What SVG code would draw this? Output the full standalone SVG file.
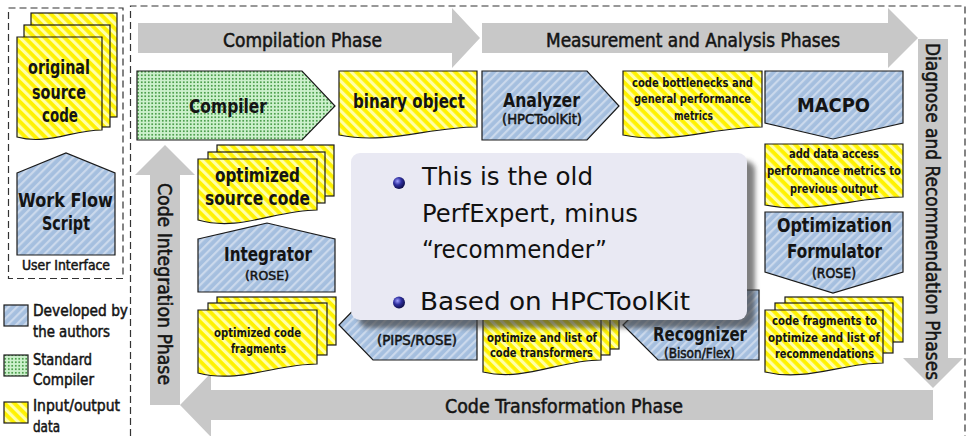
<svg xmlns="http://www.w3.org/2000/svg" width="968" height="436" viewBox="0 0 968 436">
<defs>
<pattern id="hb" width="6" height="6" patternUnits="userSpaceOnUse" patternTransform="rotate(45)">
<rect width="6" height="6" fill="#A5BFDF"/><rect width="2.2" height="6" fill="#CBD9EC"/>
</pattern>
<pattern id="hy" width="7" height="7" patternUnits="userSpaceOnUse" patternTransform="rotate(-45)">
<rect width="7" height="7" fill="#FFF200"/><rect width="3.2" height="7" fill="#FFFFA8"/>
</pattern>
<pattern id="dots" width="3.5" height="3.5" patternUnits="userSpaceOnUse">
<rect width="3.5" height="3.5" fill="#CDF1CD"/><circle cx="1.75" cy="1.75" r="0.8" fill="#137A13"/>
</pattern>
<radialGradient id="ball" cx="0.38" cy="0.35" r="0.7">
<stop offset="0" stop-color="#A0A0FF"/><stop offset="0.45" stop-color="#3030A0"/><stop offset="1" stop-color="#0A0A40"/>
</radialGradient>
<filter id="blur" x="-10%" y="-10%" width="120%" height="120%"><feGaussianBlur stdDeviation="2.5"/></filter>
<style>
.sh{stroke:#1a1a1a;stroke-width:1.2;stroke-linejoin:miter}
.blue{fill:url(#hb)}
.yel{fill:url(#hy)}
.grn{fill:url(#dots)}
.arr{fill:#C8C8C8}
.dash{fill:none;stroke:#333;stroke-width:1.2;stroke-dasharray:7 4}
.t{font-family:"DejaVu Sans Condensed","DejaVu Sans",sans-serif;fill:#141414}
.b{font-weight:bold}
.m{font-weight:normal;stroke:#141414;stroke-width:0.5}
.c{text-anchor:middle}
.s20{font-size:20px}
.s19{font-size:19px}
.s16{font-size:16px}
.s14{font-size:14px}
.s13{font-size:13px}
.co{font-family:"DejaVu Sans","Liberation Sans",sans-serif;font-size:24.5px;fill:#111}
</style>
</defs>

<rect width="968" height="436" fill="#fff"/>

<g id="frames">
<rect class="dash" x="8.5" y="8" width="114.5" height="270.5"/>
<path class="dash" d="M130.5,436 V6 H965 V436"/>
</g>

<g id="connectors">
<g id="arrow-compilation">
<path class="arr" d="M138,23 H452 V8 L480,38 L452,68 V53 H138 Z"/>
<text class="t m s19 c" x="302.5" y="47" textLength="159" lengthAdjust="spacingAndGlyphs">Compilation Phase</text>
</g>
<g id="arrow-measurement">
<path class="arr" d="M482,23 H888 V8 L918,38 L888,68 V53 H482 Z"/>
<text class="t m s19 c" x="693" y="47" textLength="294" lengthAdjust="spacingAndGlyphs">Measurement and Analysis Phases</text>
</g>
<g id="arrow-diagnose">
<path class="arr" d="M918,39 H948 V358 H963 L933,388 L903,358 H918 Z"/>
<text class="t m s19 c" transform="translate(926,211.5) rotate(90)" textLength="337" lengthAdjust="spacingAndGlyphs">Diagnose and Recommendation Phases</text>
</g>
<g id="arrow-transformation">
<path class="arr" d="M933,390 H211 V373 L180,405 L211,437 V420 H933 Z"/>
<text class="t m s19 c" x="564" y="413" textLength="238" lengthAdjust="spacingAndGlyphs">Code Transformation Phase</text>
</g>
<g id="arrow-integration">
<path class="arr" d="M150,405 V175 H135 L165,145 L195,175 H180 V405 Z"/>
<text class="t m s19 c" transform="translate(158,284) rotate(90)" textLength="202" lengthAdjust="spacingAndGlyphs">Code Integration Phase</text>
</g>
</g>

<g id="original-source-code">
<rect class="sh yel" x="31" y="13" width="86" height="104"/>
<rect class="sh yel" x="24" y="25" width="86" height="102"/>
<path class="sh yel" d="M17,37 H102 V130 C72.3,130 46.8,145.4 17,137 Z"/>
<text class="t b s20 c" x="59" y="74" textLength="62" lengthAdjust="spacingAndGlyphs">original</text>
<text class="t b s20 c" x="59" y="98.5" textLength="54" lengthAdjust="spacingAndGlyphs">source</text>
<text class="t b s20 c" x="60" y="122" textLength="36" lengthAdjust="spacingAndGlyphs">code</text>
</g>
<g id="work-flow-script">
<path class="sh blue" d="M17,173 L66,153 L115,173 V255 H17 Z"/>
<text class="t b s20 c" x="65.5" y="207" textLength="95" lengthAdjust="spacingAndGlyphs">Work Flow</text>
<text class="t b s20 c" x="66" y="230" textLength="48" lengthAdjust="spacingAndGlyphs">Script</text>
</g>
<g id="user-interface-label">
<text class="t m s14 c" x="66" y="270" textLength="88" lengthAdjust="spacingAndGlyphs">User Interface</text>
</g>

<g id="legend">
<rect class="sh blue" x="4" y="305" width="24" height="21"/>
<text class="t m s16" x="33" y="316" textLength="95" lengthAdjust="spacingAndGlyphs">Developed by</text>
<text class="t m s16" x="33" y="337" textLength="77" lengthAdjust="spacingAndGlyphs">the authors</text>
<rect class="sh grn" x="4" y="355" width="24" height="21"/>
<text class="t m s16" x="33" y="365" textLength="59" lengthAdjust="spacingAndGlyphs">Standard</text>
<text class="t m s16" x="33" y="385" textLength="61" lengthAdjust="spacingAndGlyphs">Compiler</text>
<rect class="sh yel" x="4" y="402" width="24" height="21"/>
<text class="t m s16" x="33" y="411" textLength="87" lengthAdjust="spacingAndGlyphs">Input/output</text>
<text class="t m s16" x="33" y="432" textLength="27" lengthAdjust="spacingAndGlyphs">data</text>
</g>

<g id="compiler">
<path class="sh grn" d="M137,71 H302 L335,106 L302,140 H137 Z"/>
<text class="t b s20 c" x="228" y="113" textLength="78" lengthAdjust="spacingAndGlyphs">Compiler</text>
</g>
<g id="binary-object">
<path class="sh yel" d="M339,71 H477 V127 C428.7,127 387.3,145 339,135 Z"/>
<text class="t b s20 c" x="409" y="108" textLength="112" lengthAdjust="spacingAndGlyphs">binary object</text>
</g>
<g id="analyzer">
<path class="sh blue" d="M482,71 H587 L619,106 L587,140 H482 Z"/>
<text class="t b s20 c" x="541.5" y="107" textLength="77" lengthAdjust="spacingAndGlyphs">Analyzer</text>
<text class="t m s14 c" x="542" y="124" textLength="80" lengthAdjust="spacingAndGlyphs">(HPCToolKit)</text>
</g>
<g id="code-bottlenecks">
<path class="sh yel" d="M623,71 H762 V127 C713.4,127 671.7,145 623,135 Z"/>
<text class="t b s13 c" x="692.5" y="87" textLength="121" lengthAdjust="spacingAndGlyphs">code bottlenecks and</text>
<text class="t b s13 c" x="692.5" y="103" textLength="117" lengthAdjust="spacingAndGlyphs">general performance</text>
<text class="t b s13 c" x="693.5" y="120" textLength="39" lengthAdjust="spacingAndGlyphs">metrics</text>
</g>
<g id="macpo">
<path class="sh blue" d="M765,71 H903 V123 L833,139 L765,123 Z"/>
<text class="t b s20 c" x="833.5" y="112" textLength="73" lengthAdjust="spacingAndGlyphs">MACPO</text>
</g>

<g id="data-access-metrics">
<path class="sh yel" d="M765,144 H903 V197 C854.7,197 813.3,214.6 765,205 Z"/>
<text class="t b s13 c" x="834" y="158" textLength="90" lengthAdjust="spacingAndGlyphs">add data access</text>
<text class="t b s13 c" x="834" y="175" textLength="134" lengthAdjust="spacingAndGlyphs">performance metrics to</text>
<text class="t b s13 c" x="834" y="193" textLength="88" lengthAdjust="spacingAndGlyphs">previous output</text>
</g>
<g id="optimization-formulator">
<path class="sh blue" d="M765,212 H903 V272 L833,293 L765,272 Z"/>
<text class="t b s20 c" x="834.5" y="232" textLength="115" lengthAdjust="spacingAndGlyphs">Optimization</text>
<text class="t b s20 c" x="834.5" y="258" textLength="95" lengthAdjust="spacingAndGlyphs">Formulator</text>
<text class="t m s14 c" x="834" y="278" textLength="44" lengthAdjust="spacingAndGlyphs">(ROSE)</text>
</g>

<g id="optimized-source-code">
<rect class="sh yel" x="217" y="145" width="117" height="51"/>
<rect class="sh yel" x="208" y="152" width="117" height="51"/>
<path class="sh yel" d="M198,159 H317 V210 C275.4,210 239.7,232 198,220 Z"/>
<text class="t b s20 c" x="257.5" y="182" textLength="85" lengthAdjust="spacingAndGlyphs">optimized</text>
<text class="t b s20 c" x="257.5" y="205" textLength="105" lengthAdjust="spacingAndGlyphs">source code</text>
</g>
<g id="integrator">
<path class="sh blue" d="M198,239 L267,223 L335,239 V292 H198 Z"/>
<text class="t b s20 c" x="268" y="261" textLength="88" lengthAdjust="spacingAndGlyphs">Integrator</text>
<text class="t m s13 c" x="267" y="280" textLength="44" lengthAdjust="spacingAndGlyphs">(ROSE)</text>
</g>

<g id="optimized-code-fragments">
<rect class="sh yel" x="217" y="297" width="119" height="48"/>
<rect class="sh yel" x="208" y="303" width="119" height="52"/>
<path class="sh yel" d="M198,310 H317 V364 C275.4,364 239.7,383.8 198,373 Z"/>
<text class="t b s13 c" x="257.5" y="337" textLength="87" lengthAdjust="spacingAndGlyphs">optimized code</text>
<text class="t b s13 c" x="258.5" y="353" textLength="55" lengthAdjust="spacingAndGlyphs">fragments</text>
</g>
<g id="transformer">
<path class="sh blue" d="M339,325 L373,290 H477 V360 H373 Z"/>
<text class="t m s14 c" x="417" y="345" textLength="80" lengthAdjust="spacingAndGlyphs">(PIPS/ROSE)</text>
</g>
<g id="code-transformers">
<rect class="sh yel" x="501" y="297" width="118" height="52"/>
<rect class="sh yel" x="492" y="303" width="118" height="52"/>
<path class="sh yel" d="M483,310 H601 V360 C559.7,360 524.3,382 483,372 Z"/>
<text class="t b s13 c" x="542" y="342" textLength="110" lengthAdjust="spacingAndGlyphs">optimize and list of</text>
<text class="t b s13 c" x="541.5" y="357" textLength="103" lengthAdjust="spacingAndGlyphs">code transformers</text>
</g>
<g id="recognizer">
<path class="sh blue" d="M623,325 L658,290 H759 V360 H658 Z"/>
<text class="t b s20 c" x="700" y="341" textLength="94" lengthAdjust="spacingAndGlyphs">Recognizer</text>
<text class="t m s14 c" x="699.5" y="358" textLength="71" lengthAdjust="spacingAndGlyphs">(Bison/Flex)</text>
</g>
<g id="code-fragments-recommendations">
<rect class="sh yel" x="785" y="297" width="118" height="45"/>
<rect class="sh yel" x="775" y="303" width="118" height="50"/>
<path class="sh yel" d="M765,310 H883 V363 C841.7,363 806.3,382 765,372 Z"/>
<text class="t b s13 c" x="824.5" y="325" textLength="105" lengthAdjust="spacingAndGlyphs">code fragments to</text>
<text class="t b s13 c" x="824" y="342" textLength="112" lengthAdjust="spacingAndGlyphs">optimize and list of</text>
<text class="t b s13 c" x="824.5" y="358" textLength="99" lengthAdjust="spacingAndGlyphs">recommendations</text>
</g>

<g id="callout">
<rect x="359" y="161" width="396" height="167" rx="9" fill="#3a3a3a" opacity="0.65" filter="url(#blur)"/>
<rect x="351" y="153" width="396" height="167" rx="9" fill="#E9E9F3"/>
<circle cx="399" cy="183" r="6" fill="url(#ball)"/>
<text class="co" x="422" y="185" textLength="171" lengthAdjust="spacingAndGlyphs">This is the old</text>
<text class="co" x="422" y="222" textLength="216" lengthAdjust="spacingAndGlyphs">PerfExpert, minus</text>
<text class="co" x="422" y="258" textLength="185" lengthAdjust="spacingAndGlyphs">“recommender”</text>
<circle cx="399" cy="302.5" r="6" fill="url(#ball)"/>
<text class="co" x="420" y="310" textLength="270" lengthAdjust="spacingAndGlyphs">Based on HPCToolKit</text>
</g>
</svg>
